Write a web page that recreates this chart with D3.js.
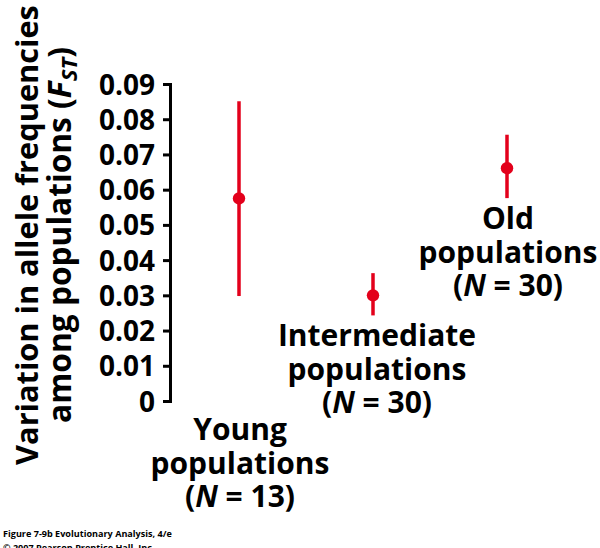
<!DOCTYPE html>
<html>
<head>
<meta charset="utf-8">
<script src="https://cdn.jsdelivr.net/npm/d3@7/dist/d3.min.js"></script>
<style>
  html, body { margin: 0; padding: 0; background: #fff; }
  svg { display: block; }
  text { font-family: "Open Sans", "Noto Sans", sans-serif; font-weight: 700; fill: #000; }
</style>
</head>
<body>
<svg id="chart" width="600" height="548"></svg>
<script>
// ---- data ----
const categories = ["Young", "Intermediate", "Old"];
const groupNames = ["Young", "Intermediate", "Old"];
const sampleSizes = [13, 30, 30];
const meanFst = [0.0575, 0.0300, 0.0661];
const lowerFst = [0.0298, 0.0243, 0.0576];
const upperFst = [0.0851, 0.0363, 0.0756];
const yTicks = [0, 0.01, 0.02, 0.03, 0.04, 0.05, 0.06, 0.07, 0.08, 0.09];

// ---- layout ----
const axisX = 170;
const red = "#e3001b";
const svg = d3.select("#chart");

const y = d3.scaleLinear().domain([0, 0.09]).range([401, 84]);
const x = d3.scalePoint().domain(categories).range([239, 507]);

function fit(sel, target) {
  const n = sel.node();
  const fs = parseFloat(sel.style("font-size"));
  const w = n.getComputedTextLength();
  if (w > 0) sel.style("font-size", (fs * target / w) + "px");
}

// y axis
const yAxis = d3.axisLeft(y)
  .tickValues(yTicks)
  .tickSize(7)
  .tickPadding(8)
  .tickFormat(d => d === 0 ? "0" : d3.format(".2f")(d));

const gAxis = svg.append("g")
  .attr("transform", `translate(${axisX},0)`)
  .call(yAxis);
gAxis.select(".domain").attr("stroke", "#000").attr("stroke-width", 3).attr("fill", "none");
gAxis.selectAll(".tick line").attr("stroke", "#000").attr("stroke-width", 3);
gAxis.selectAll(".tick text")
  .attr("fill", "#000")
  .style("font-family", '"Open Sans", sans-serif')
  .style("font-weight", 700)
  .style("font-size", "28px")
  .attr("dy", "0.36em");

// y-axis title (two lines, rotated, one text element)
const title = svg.append("text")
  .attr("transform", "translate(0,235) rotate(-90)")
  .attr("text-anchor", "middle")
  .style("font-size", "31px");
const l1 = title.append("tspan").attr("x", 0).attr("y", 38).text("Variation in allele frequencies");
fit(l1, 460);
const l2 = title.append("tspan").attr("x", 0).attr("y", 71);
l2.append("tspan").text("among populations (");
l2.append("tspan").style("font-style", "italic").text("F");
l2.append("tspan").style("font-style", "italic").style("font-size", "0.7em").attr("dy", "0.25em").text("ST");
l2.append("tspan").attr("dy", "-0.18em").text(")");
fit(l2, 376);

// error bars
const rows = categories.map((c, i) => ({ c, mean: meanFst[i], lo: lowerFst[i], hi: upperFst[i] }));

svg.append("g").selectAll("line")
  .data(rows).join("line")
  .attr("x1", d => x(d.c)).attr("x2", d => x(d.c))
  .attr("y1", d => y(d.lo)).attr("y2", d => y(d.hi))
  .attr("stroke", red).attr("stroke-width", 3.5);

svg.append("g").selectAll("circle")
  .data(rows).join("circle")
  .attr("cx", d => x(d.c)).attr("cy", d => y(d.mean))
  .attr("r", 6.2).attr("fill", red);

// category labels (one text element each, three lines)
const labelLayout = {
  Young: { dx: 1, top: y(0) + 39 },
  Intermediate: { dx: 4, top: null },
  Old: { dx: 1, top: null }
};
const lineGap = 33.5;
rows.forEach((d, i) => {
  const lay = labelLayout[d.c];
  const cx = x(d.c) + lay.dx;
  const base = lay.top !== null ? lay.top : y(d.lo) + 31;
  const t = svg.append("text").attr("text-anchor", "middle").style("font-size", "30px");
  t.append("tspan").attr("x", cx).attr("y", base).text(groupNames[i]);
  t.append("tspan").attr("x", cx).attr("y", base + lineGap).text("populations");
  const l3 = t.append("tspan").attr("x", cx).attr("y", base + 2 * lineGap);
  l3.append("tspan").text("(");
  l3.append("tspan").style("font-style", "italic").text("N");
  l3.append("tspan").text(" = " + sampleSizes[i] + ")");
});

// caption
const cap = svg.append("text").style("font-size", "10px");
const c1 = cap.append("tspan").attr("x", 3).attr("y", 537).text("Figure 7-9b  Evolutionary Analysis, 4/e");
fit(cap, 169);
cap.append("tspan").attr("x", 3).attr("y", 551).text("© 2007 Pearson Prentice Hall, Inc.");
</script>
</body>
</html>
